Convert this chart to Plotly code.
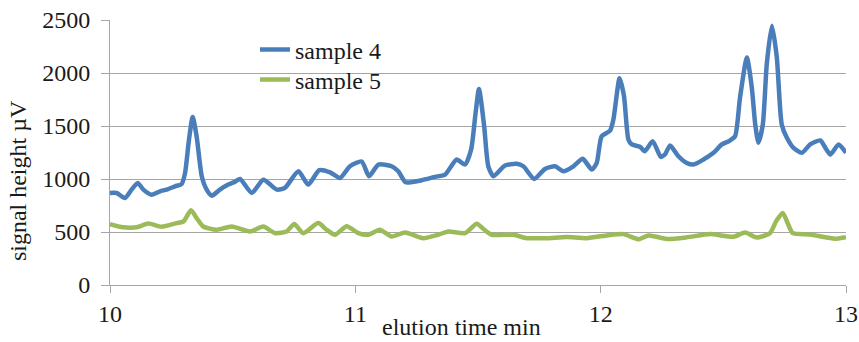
import plotly.graph_objects as go

# sample 4 (blue)
time_s4 = [10.000, 10.027, 10.061, 10.088, 10.113, 10.136, 10.170, 10.204, 10.231, 10.265,
           10.292, 10.306, 10.322, 10.337, 10.353, 10.374, 10.394, 10.415, 10.448, 10.482,
           10.510, 10.530, 10.578, 10.625, 10.680, 10.713, 10.768, 10.808, 10.853, 10.897,
           10.938, 10.978, 11.026, 11.056, 11.094, 11.148, 11.175, 11.205, 11.270, 11.325,
           11.366, 11.413, 11.447, 11.472, 11.490, 11.504, 11.525, 11.542, 11.563, 11.610,
           11.658, 11.685, 11.729, 11.773, 11.814, 11.848, 11.889, 11.927, 11.964, 11.984,
           12.004, 12.038, 12.052, 12.077, 12.095, 12.113, 12.127, 12.160, 12.180, 12.212,
           12.245, 12.262, 12.283, 12.317, 12.351, 12.378, 12.419, 12.460, 12.494, 12.525,
           12.548, 12.568, 12.596, 12.616, 12.630, 12.643, 12.661, 12.677, 12.698, 12.718,
           12.738, 12.759, 12.786, 12.820, 12.854, 12.895, 12.916, 12.936, 12.970, 13.000]
signal_s4 = [868, 868, 821, 900, 963, 900, 852, 884, 900, 931,
             953, 1058, 1373, 1585, 1404, 1026, 900, 843, 900, 947,
             975, 1000, 868, 994, 900, 916, 1073, 947, 1083, 1063,
             1010, 1120, 1165, 1026, 1136, 1120, 1073, 969, 988, 1020,
             1042, 1184, 1136, 1278, 1620, 1850, 1500, 1120, 1026, 1127,
             1143, 1120, 1000, 1095, 1120, 1073, 1120, 1190, 1089, 1152,
             1404, 1455, 1563, 1950, 1783, 1373, 1326, 1304, 1262, 1357,
             1209, 1231, 1316, 1215, 1152, 1136, 1184, 1247, 1326, 1360,
             1404, 1768, 2147, 1863, 1515, 1342, 1515, 2083, 2446, 2147,
             1515, 1389, 1294, 1247, 1326, 1364, 1294, 1231, 1326, 1247]

# sample 5 (green)
time_s5 = [10.000, 10.053, 10.109, 10.156, 10.210, 10.272, 10.300, 10.330, 10.353, 10.380,
           10.435, 10.496, 10.571, 10.625, 10.673, 10.720, 10.751, 10.788, 10.849, 10.883,
           10.917, 10.965, 11.012, 11.053, 11.100, 11.148, 11.203, 11.277, 11.338, 11.379,
           11.447, 11.495, 11.526, 11.556, 11.644, 11.699, 11.780, 11.862, 11.943, 12.031,
           12.093, 12.155, 12.195, 12.270, 12.351, 12.446, 12.541, 12.589, 12.636, 12.690,
           12.715, 12.742, 12.765, 12.783, 12.854, 12.920, 12.962, 13.000]
signal_s5 = [575, 545, 545, 580, 550, 584, 600, 705, 631, 552,
             521, 552, 505, 552, 489, 505, 575, 489, 584, 521,
             474, 555, 489, 474, 521, 458, 495, 442, 474, 505,
             489, 578, 521, 474, 474, 442, 442, 452, 442, 470,
             480, 432, 467, 435, 450, 480, 455, 495, 448, 489,
             600, 679, 568, 489, 477, 448, 436, 450]

x_ticks = [10, 11, 12, 13]
y_ticks = [0, 500, 1000, 1500, 2000, 2500]

FONT = "Liberation Serif, Times New Roman, serif"
GRID = "#a6a6a6"
TXT = "#1a1a1a"
FS = 24

fig = go.Figure()
fig.add_trace(go.Scatter(x=time_s4, y=signal_s4, mode="lines", name="sample 4", legend="legend",
                         line=dict(color="#4A7EBB", width=4.5, shape="spline", smoothing=0.6)))
fig.add_trace(go.Scatter(x=time_s5, y=signal_s5, mode="lines", name="sample 5", legend="legend2",
                         line=dict(color="#9BBB59", width=4.5, shape="spline", smoothing=0.6)))

fig.update_layout(
    width=859, height=342,
    margin=dict(l=110, r=13, t=20, b=57, autoexpand=False),
    paper_bgcolor="white", plot_bgcolor="white",
    font=dict(family=FONT, size=FS, color=TXT),
    showlegend=True,
    legend=dict(x=0.197, y=0.887, xanchor="left", yanchor="middle",
                bgcolor="rgba(0,0,0,0)", font=dict(family=FONT, size=FS, color=TXT)),
    legend2=dict(x=0.197, y=0.774, xanchor="left", yanchor="middle",
                 bgcolor="rgba(0,0,0,0)", font=dict(family=FONT, size=FS, color=TXT)),
    xaxis=dict(range=[10, 13], tickvals=x_ticks, ticktext=[str(v) for v in x_ticks],
               automargin=False, ticklabeloverflow="allow",
               showgrid=False, zeroline=False, showline=True, linecolor=GRID, linewidth=1,
               ticks="outside", ticklen=7, tickcolor=GRID,
               tickfont=dict(family=FONT, size=FS, color=TXT)),
    yaxis=dict(range=[0, 2500], tickvals=y_ticks, ticktext=[str(v) for v in y_ticks],
               automargin=False, ticklabeloverflow="allow",
               showgrid=True, gridcolor=GRID, gridwidth=1, zeroline=False,
               showline=True, linecolor=GRID, linewidth=1,
               ticks="outside", ticklen=8, tickcolor=GRID, ticklabelstandoff=6,
               tickfont=dict(family=FONT, size=FS, color=TXT)),
    shapes=[dict(type="rect", xref="paper", yref="paper", x0=0.1128, x1=0.4348, y0=0.72, y1=0.955,
                 fillcolor="white", line=dict(width=0), layer="between")],
    annotations=[
        dict(text="elution time min", xref="paper", yref="paper", x=0.478, y=-0.158,
             xanchor="center", yanchor="middle", showarrow=False,
             font=dict(family=FONT, size=FS, color=TXT)),
        dict(text="signal height µV", xref="paper", yref="paper", x=-0.125, y=0.392,
             xanchor="center", yanchor="middle", showarrow=False, textangle=-90,
             font=dict(family=FONT, size=FS, color=TXT)),
    ],
)

# remove the browser's default 8px body margin so the 859x342 figure fills the window exactly
fig.write_html("out.html",
               config={"displayModeBar": False},
               post_script="document.body.style.margin='0';document.body.style.overflow='hidden';")
